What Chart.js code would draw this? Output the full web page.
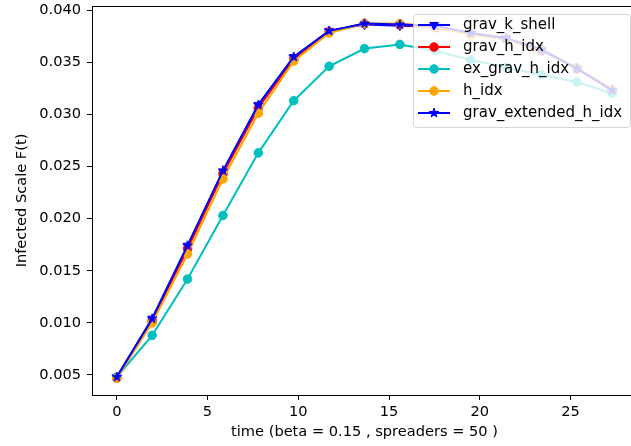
<!DOCTYPE html>
<html><head><meta charset="utf-8">
<script src="https://cdn.jsdelivr.net/npm/chart.js@4/dist/chart.umd.min.js"></script>
<style>html,body{margin:0;padding:0;overflow:hidden;background:#fff;width:631px;height:446px}canvas{display:block}</style>
</head><body>
<canvas id="c" width="645" height="446"></canvas>
<script>
// ---- data ----
const times = [0, 1.95, 3.9, 5.85, 7.8, 9.75, 11.7, 13.65, 15.6, 17.55, 19.5, 21.45, 23.4, 25.35, 27.3];
const gravKShell = [0.0048, 0.0104, 0.0174, 0.0245, 0.0309, 0.0355, 0.0380, 0.0386, 0.0385, 0.0384, 0.0378, 0.0373, 0.0362, 0.0344, 0.0323];
const gravHIdx = [0.0047, 0.0102, 0.0171, 0.0243, 0.0306, 0.0353, 0.0379, 0.0387, 0.0386, 0.0383, 0.0377, 0.0372, 0.0361, 0.0344, 0.0323];
const exGravHIdx = [0.0048, 0.0088, 0.0142, 0.0203, 0.0263, 0.0313, 0.0346, 0.0363, 0.0367, 0.0361, 0.0352, 0.0345, 0.0338, 0.0331, 0.0320];
const hIdx = [0.0047, 0.0100, 0.0166, 0.0238, 0.0301, 0.0351, 0.0378, 0.0387, 0.0387, 0.0384, 0.0376, 0.0372, 0.0362, 0.0345, 0.0324];
const gravExtendedHIdx = [0.0048, 0.0104, 0.0174, 0.0246, 0.0309, 0.0355, 0.0380, 0.0387, 0.0386, 0.0385, 0.0378, 0.0373, 0.0362, 0.0344, 0.0323];
const seriesLabels = ['grav_k_shell', 'grav_h_idx', 'ex_grav_h_idx', 'h_idx', 'grav_extended_h_idx'];
const xTickValues = [0, 5, 10, 15, 20, 25];
const yTickValues = [0.005, 0.010, 0.015, 0.020, 0.025, 0.030, 0.035, 0.040];
const xTitle = 'time (beta = 0.15 , spreaders = 50 )';
const yTitle = 'Infected Scale F(t)';

const FONT_SIZE = 14.6;
Chart.defaults.font.family = "'DejaVu Sans', sans-serif";
Chart.defaults.font.size = FONT_SIZE;
Chart.defaults.color = '#000';

function makeStar(color, R) {
  const s = 14;
  const c = document.createElement('canvas'); c.width = s; c.height = s;
  const g = c.getContext('2d');
  const cx = s / 2, cy = s / 2, r = R * 0.382;
  g.beginPath();
  for (let i = 0; i < 10; i++) {
    const rad = i % 2 === 0 ? R : r;
    const a = -Math.PI / 2 + i * Math.PI / 5;
    g.lineTo(cx + rad * Math.cos(a), cy + rad * Math.sin(a));
  }
  g.closePath();
  g.fillStyle = color; g.fill();
  g.lineWidth = 1; g.strokeStyle = color; g.stroke();
  return c;
}
const starImg = makeStar('#0000ff', 5);

const pts = arr => times.map((t, i) => ({x: t, y: arr[i]}));
const base = {borderWidth: 2, pointBorderWidth: 1, pointRadius: 4.3, tension: 0, fill: false};

const datasets = [
  Object.assign({}, base, {label: seriesLabels[0], data: pts(gravKShell), borderColor: '#0000ff', backgroundColor: '#0000ff', pointStyle: 'triangle', pointRotation: 180, pointRadius: 5, order: 5}),
  Object.assign({}, base, {label: seriesLabels[1], data: pts(gravHIdx), borderColor: '#ff0000', backgroundColor: '#ff0000', pointStyle: 'circle', order: 4}),
  Object.assign({}, base, {label: seriesLabels[2], data: pts(exGravHIdx), borderColor: '#00bfbf', backgroundColor: '#00bfbf', pointStyle: 'circle', order: 3}),
  Object.assign({}, base, {label: seriesLabels[3], data: pts(hIdx), borderColor: '#ffa500', backgroundColor: '#ffa500', pointStyle: 'circle', order: 2}),
  Object.assign({}, base, {label: seriesLabels[4], data: pts(gravExtendedHIdx), borderColor: '#0000ff', backgroundColor: '#0000ff', pointStyle: starImg, pointRadius: 5, order: 1})
];

const framePlugin = {
  id: 'frame',
  afterDatasetsDraw(chart) {
    const ctx = chart.ctx, a = chart.chartArea;
    ctx.save();
    ctx.strokeStyle = '#000'; ctx.lineWidth = 1;
    ctx.beginPath();
    ctx.moveTo(a.left, a.top + 0.5); ctx.lineTo(a.right, a.top + 0.5);
    ctx.stroke();
    ctx.restore();
  }
};

const legendPlugin = {
  id: 'innerLegend',
  afterDatasetsDraw(chart) {
    const ctx = chart.ctx;
    const bx = 413.5, by = 14.5, bw = 217, bh = 113, r = 3;
    ctx.save();
    ctx.beginPath();
    ctx.moveTo(bx + r, by);
    ctx.lineTo(bx + bw - r, by); ctx.arcTo(bx + bw, by, bx + bw, by + r, r);
    ctx.lineTo(bx + bw, by + bh - r); ctx.arcTo(bx + bw, by + bh, bx + bw - r, by + bh, r);
    ctx.lineTo(bx + r, by + bh); ctx.arcTo(bx, by + bh, bx, by + bh - r, r);
    ctx.lineTo(bx, by + r); ctx.arcTo(bx, by, bx + r, by, r);
    ctx.closePath();
    ctx.fillStyle = 'rgba(255,255,255,0.8)'; ctx.fill();
    ctx.strokeStyle = 'rgba(204,204,204,0.8)'; ctx.lineWidth = 1; ctx.stroke();
    chart.data.datasets.forEach((ds, i) => {
      const y = 25 + i * 22;
      ctx.strokeStyle = ds.borderColor; ctx.lineWidth = 2;
      ctx.beginPath(); ctx.moveTo(418, y); ctx.lineTo(450, y); ctx.stroke();
      ctx.fillStyle = ds.backgroundColor; ctx.strokeStyle = ds.borderColor; ctx.lineWidth = 1;
      Chart.helpers.drawPoint(ctx, {pointStyle: ds.pointStyle, rotation: ds.pointRotation || 0, radius: ds.pointRadius, borderWidth: 1}, 434, y);
      ctx.fillStyle = '#000';
      ctx.font = "15px 'DejaVu Sans', sans-serif";
      ctx.textBaseline = 'middle'; ctx.textAlign = 'left';
      ctx.fillText(ds.label, 463, y);
    });
    ctx.restore();
  }
};

new Chart(document.getElementById('c'), {
  type: 'line',
  data: {datasets},
  plugins: [framePlugin, legendPlugin],
  options: {
    responsive: false, animation: false, devicePixelRatio: 1,
    layout: {padding: {left: 0, top: 6, right: 8, bottom: 0}},
    plugins: {legend: {display: false}, tooltip: {enabled: false}},
    scales: {
      x: {
        type: 'linear', min: -1.365, max: 28.665,
        afterBuildTicks: s => { s.ticks = xTickValues.map(v => ({value: v})); },
        afterFit: s => { s.height = 51; s.paddingLeft = 0; s.paddingRight = 0; },
        ticks: {autoSkip: false, maxRotation: 0, padding: 3, color: '#000', callback: v => String(v)},
        grid: {display: true, drawOnChartArea: false, drawTicks: true, tickLength: 5, tickColor: '#000', tickWidth: 1},
        border: {display: true, color: '#000', width: 1},
        title: {display: true, text: xTitle, color: '#000', padding: {top: 0, bottom: 5}}
      },
      y: {
        type: 'linear', min: 0.003082, max: 0.040384,
        afterBuildTicks: s => { s.ticks = yTickValues.map(v => ({value: v})); },
        afterFit: s => { s.width = 92; s.paddingTop = 0; s.paddingBottom = 0; },
        ticks: {autoSkip: false, padding: 6, color: '#000', callback: v => Number(v).toFixed(3)},
        grid: {display: true, drawOnChartArea: false, drawTicks: true, tickLength: 5, tickColor: '#000', tickWidth: 1},
        border: {display: true, color: '#000', width: 1},
        title: {display: true, text: yTitle, color: '#000', padding: {top: 13, bottom: 0}}
      }
    }
  }
});
</script>
</body></html>
